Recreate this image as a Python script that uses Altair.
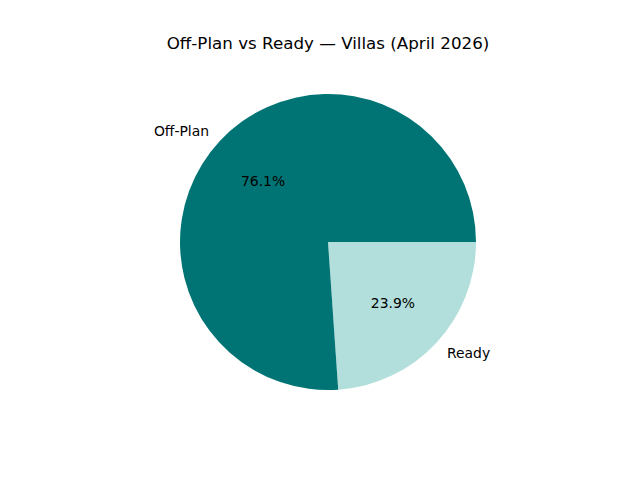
import math
import altair as alt
import pandas as pd

categories = ["Ready", "Off-Plan"]
values = [23.9, 76.1]
colors = ["#b2dfdb", "#007474"]
label_align = ["left", "right"]
order = [0, 1]

df = pd.DataFrame({
    "Category": categories,
    "Value": values,
    "Color": colors,
    "Align": label_align,
    "Order": order,
})
df["Pct"] = [f"{v:.1f}%" for v in values]

CX, CY = 320, 184
R = 148

base = alt.Chart(df).transform_stack(
    stack="Value", groupby=[], as_=["v0", "v1"], sort=[alt.SortField("Order")]
).transform_calculate(mid="(datum.v0 + datum.v1) / 2")

theta_scale = alt.Scale(domain=[0, 100], range=[math.pi / 2, math.pi / 2 + 2 * math.pi])

arcs = base.mark_arc(radius=R, stroke=None).encode(
    theta=alt.Theta("v0:Q", scale=theta_scale),
    theta2="v1:Q",
    color=alt.Color("Color:N", scale=None),
    x=alt.value(CX), y=alt.value(CY),
)

pct = base.mark_text(radius=0.6 * R, fontSize=13.9, font="DejaVu Sans", color="black",
                     baseline="middle", align="center", dy=1).encode(
    theta=alt.Theta("mid:Q", scale=theta_scale, stack=None),
    text="Pct:N",
    x=alt.value(CX), y=alt.value(CY),
)

lab_left = base.transform_filter(alt.datum.Align == "left").mark_text(
    radius=1.1 * R, fontSize=13.9, font="DejaVu Sans", color="black",
    baseline="middle", align="left", dy=1).encode(
    theta=alt.Theta("mid:Q", scale=theta_scale, stack=None),
    text="Category:N",
    x=alt.value(CX), y=alt.value(CY),
)

lab_right = base.transform_filter(alt.datum.Align == "right").mark_text(
    radius=1.1 * R, fontSize=13.9, font="DejaVu Sans", color="black",
    baseline="middle", align="right", dy=1).encode(
    theta=alt.Theta("mid:Q", scale=theta_scale, stack=None),
    text="Category:N",
    x=alt.value(CX), y=alt.value(CY),
)

chart = alt.layer(arcs, pct, lab_left, lab_right).properties(
    width=624, height=414,
    title=alt.TitleParams("Off-Plan vs Ready — Villas (April 2026)", fontSize=16.7,
                          font="DejaVu Sans", fontWeight="normal", color="black",
                          anchor="middle", dx=8, offset=-8, baseline="alphabetic"),
    autosize=alt.AutoSizeParams(type="none"),
    padding={"top": 50, "left": 0, "right": 0, "bottom": 0},
).configure_view(stroke=None)

chart.save("out.html", embed_options={"renderer": "svg", "actions": False})
